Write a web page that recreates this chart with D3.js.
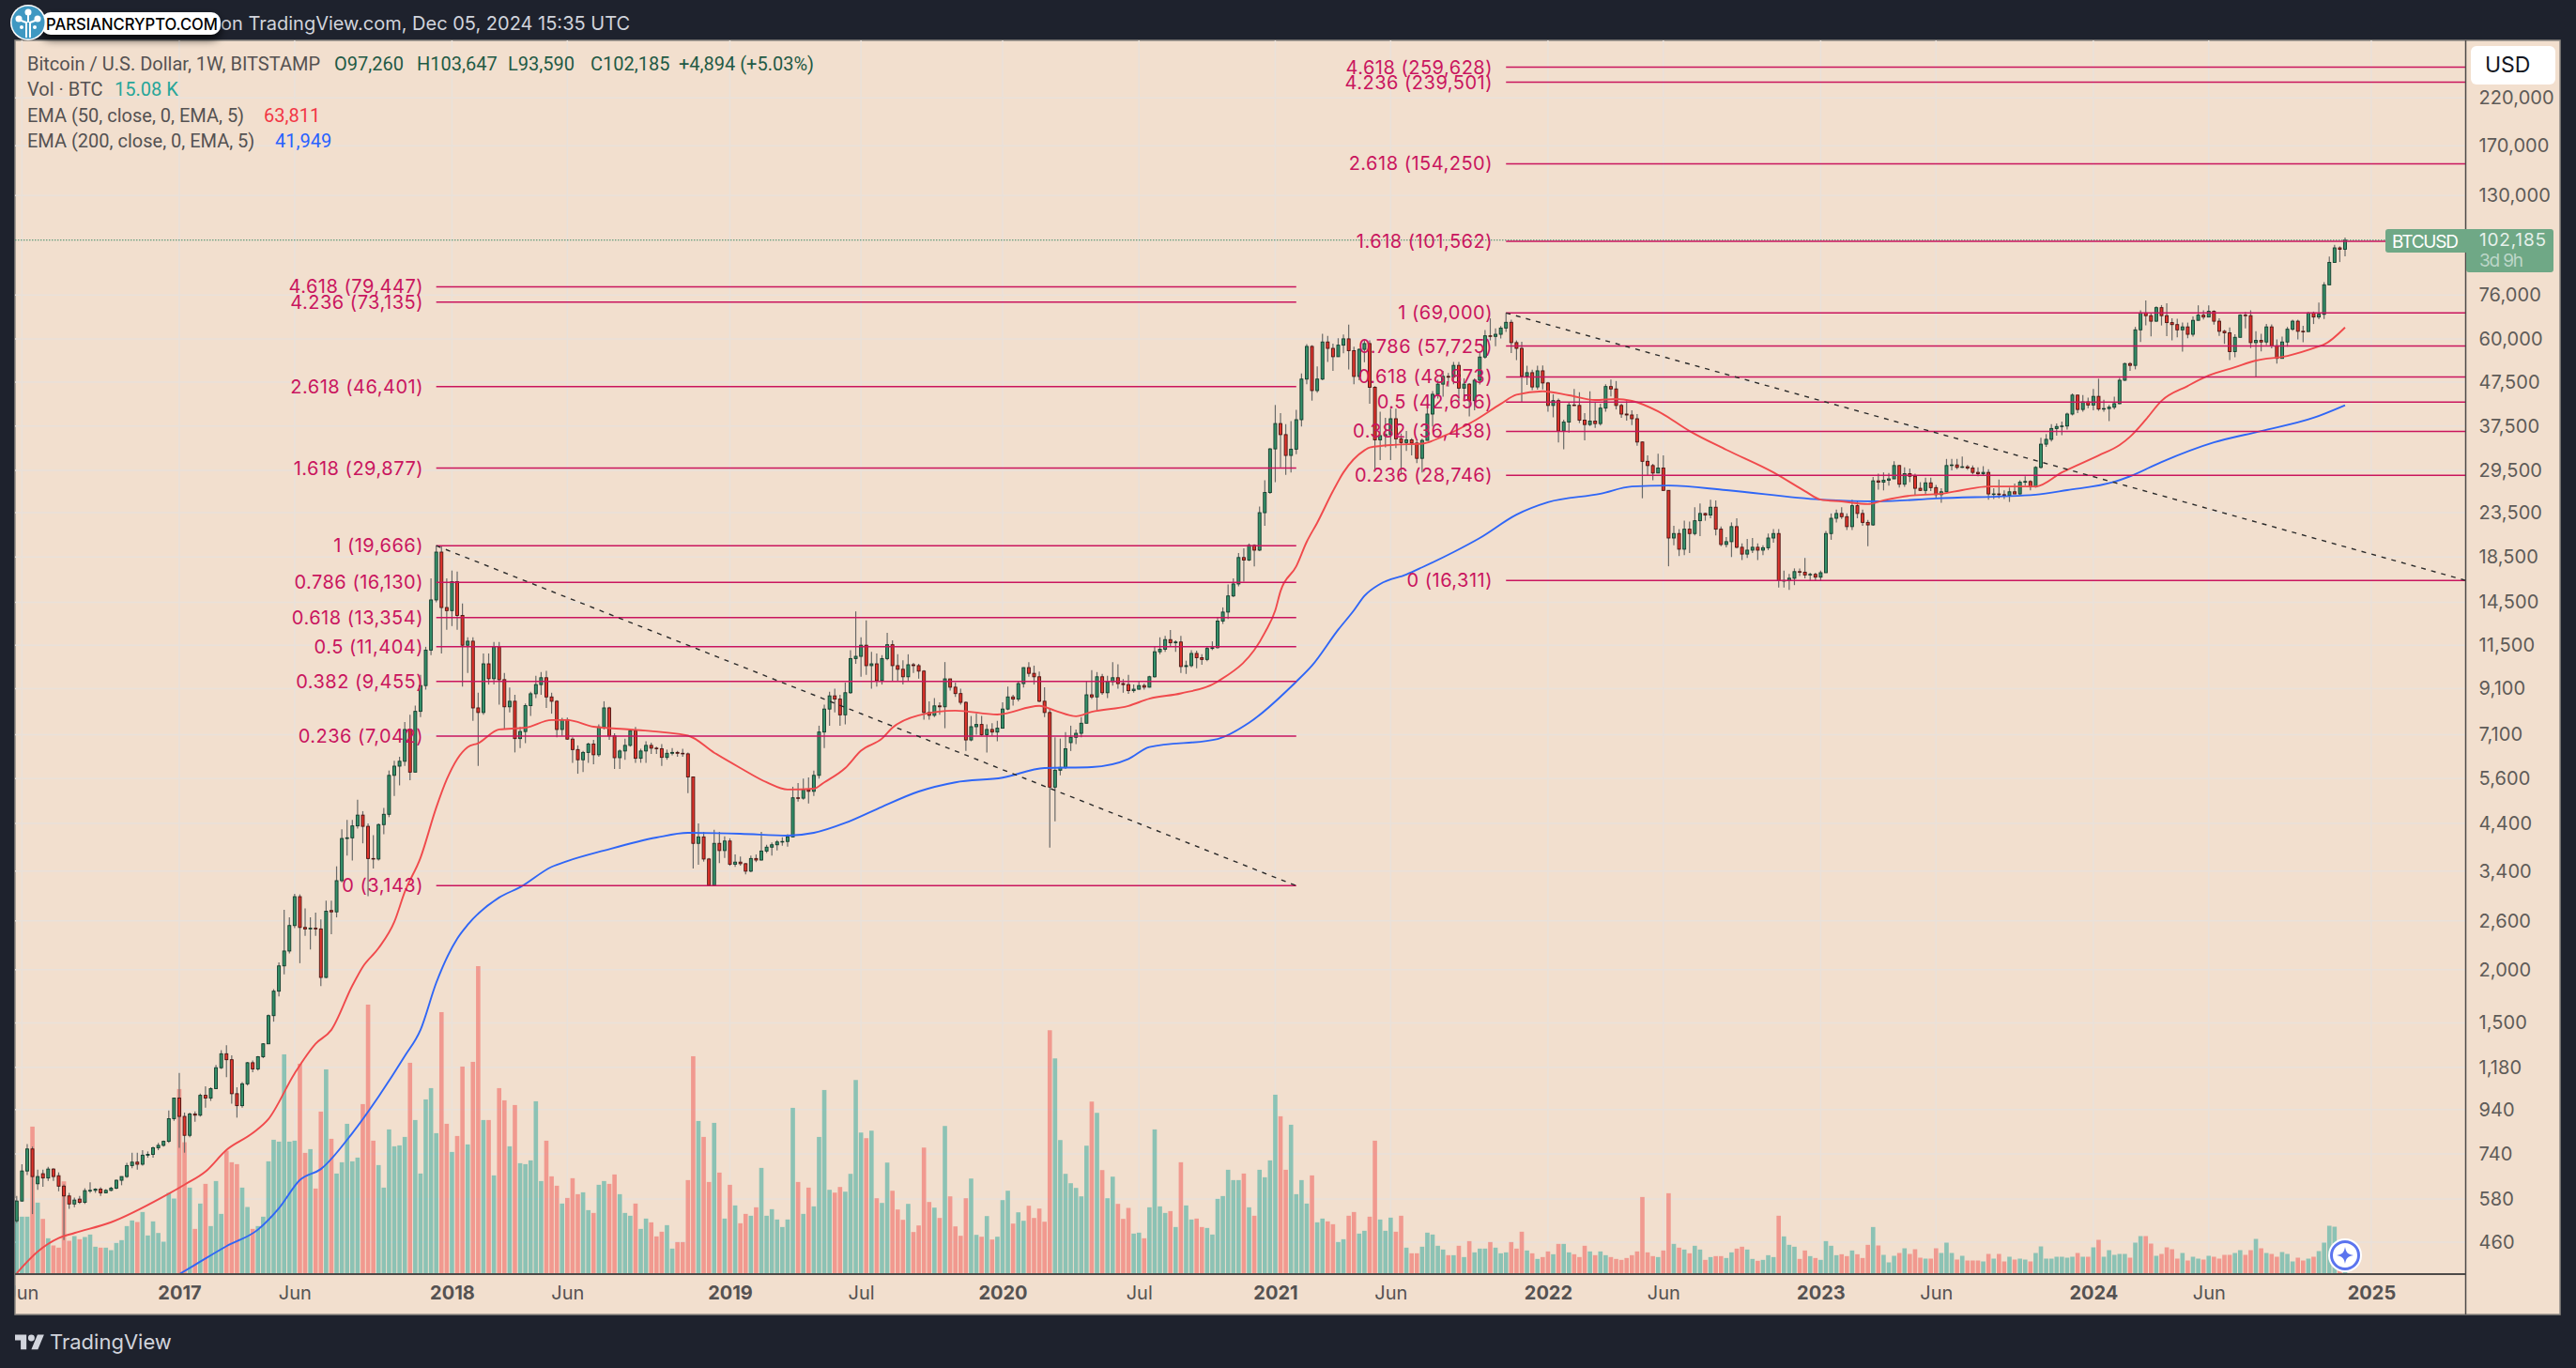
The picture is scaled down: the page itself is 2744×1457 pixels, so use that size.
<!DOCTYPE html>
<html><head><meta charset="utf-8">
<script src="https://cdn.jsdelivr.net/npm/d3@7"></script>
<style>
html,body{margin:0;padding:0;background:#1e222d}
svg{display:block}
text{font-family:Inter,"Noto Sans",sans-serif}
</style></head><body><div id="chart"></div>
<script>
// Weekly candles, one row per month: 2016-05-30 ... 2024-12-02 (BTCUSD, Bitstamp)
const weeklyOpen=[
516,574,675,760,630,665,650,682,658,622,590,565,580,570,607,608,612,600,608,615,642,655,695,708,700,735,738,765,775,792,895,
1000,906,818,918,912, 1015,1000,1052,1178, 1270,1230,1024,960, 1080,1210,1170,1250, 1340,1560,1780,2040,2210, 2536,2963,2510,2490, 2500,2490,1917,2750,2730, 3230,4055,4070,4340, 4600,4330,3640,3630, 4370,4620,5700,5990,6150, 7300,5800,8050,9250, 11200,14680,19000,14090,
13860,16200,13500,11500,11750, 8200,8000,10400,9600, 11400,9550,8250,8500, 6950,7220,8300,8850,9300, 9650,8700,8500,7300, 7700,6930,6550,6200, 6450,6750,6370,7400,8200, 7050,6270,6500,6700, 7250,6250,6500,6700, 6600,6580,6280,6420,6450, 6420,6400,5650,3950, 4090,3630,3150,3950,3800,
4000,3530,3570,3540, 3400,3640,3610,3790, 3870,3920,3980,3990, 4090,5050,5040,5270,5230, 5700,7200,8150,8750, 8600,7900,8900,10700, 10830,11500,10300,10400,9500, 10700,11530,10300,10100, 9700,10350,10300,10000,8000, 7880,8290,8250,9590, 9170,8860,8450,6900, 7410,7500,7100,7300,7200,
7350,8150,8700,8600, 9350,10190,9880,9700, 8500,8000,5350,5860,5950, 6800,7000,7150,7550, 8800,8700,9700,8900, 9450,9650,9350,9300,9000, 9070,9250,9170,9700, 11100,11250,11850,11650,11700, 10250,10300,11000,10750, 10650,11300,11350,13100, 13750,15000,16000,18450,18200, 19700,19200,23500,26200,
33150,38000,35800,32000, 33100,38800,48300,57600, 45400,48300,59000,57000,54500, 58000,60000,56300,49000, 56700,58500,46200,34800,35600, 35800,39000,35000,34300, 34800,34200,31500,34700, 40000,44500,47000,49000,48800, 52000,46000,47000,43000, 48000,54400,61000,60800, 61500,63600,65600,58800,57000, 49100,50000,46300,50500,
47300,41900,43000,36500,38300, 42000,41900,38700,37800, 38500,38000,41300,46400, 45800,41900,40000,39800, 39000,34400,31000,30300,29100, 29900,26500,20500,21000, 19300,21500,21000,22500, 23400,23200,24200,21500,19800, 20100,21800,19500,18800, 19200,19500,19200,19450,20500, 21000,16300,16300,16500, 17100,17050,16800,16850,
16600,17000,21000,22800,23400, 23000,21800,24400,23400, 22300,22000,27900,27700, 28000,28200,30300,27400, 29000,28600,26800,26500,27600, 26900,25900,26300,30300, 30400,30000,30100,29900,29200, 29000,29200,26000,26000, 25900,25800,26300,26000, 27700,27800,27000,30000,34000, 34900,37000,37400,37500, 40000,44300,41000,42700,
42000,44000,41100,41200,41500, 42300,48000,52500,52000, 63000,69000,68000,66000, 71000,68000,65500,64800,63000, 64000,61500,66300,68200, 67500,69600,66000,62500, 62000,56000,60500,68200,68000, 58800,59500,59000,64000, 57800,54000,59000,63200,66000, 62500,62400,69000,67500, 68500,80300,90600,98000, 97260];
const weeklyHigh=[
590,700,780,770,680,680,690,685,670,628,600,585,590,615,635,615,618,612,620,645,655,705,745,745,755,750,770,785,795,935,1003,
1145,925,925,930,1025, 1065,1060,1195,1295, 1330,1260,1060,1090, 1215,1225,1255,1345, 1570,1800,2080,2760,2650, 3010,3000,2780,2650, 2720,2620,2900,2900,3490, 4260,4480,4480,5000, 4700,4400,4130,4400, 4780,5850,6170,6300,7600, 7900,8300,9800,11400, 16500,19666,19600,16500,
17200,17100,14400,12000,12000, 8900,11000,11000,11700, 11700,9900,9150,8800, 7400,8400,8950,9750,9950, 10020,8900,8550,7770, 7780,7000,6700,6500, 6800,6900,7500,8500,8250, 7150,6550,6950,7300, 7400,6580,6850,6800, 6650,6750,6550,6600,6500, 6580,6450,5650,4400, 4200,3650,4250,4200,4100,
4060,3720,3680,3550, 3700,3720,4200,3920, 3970,4020,4080,4150, 5360,5470,5600,5640,5850, 7450,8350,8950,9100, 8800,9400,11200,13800, 12000,13150,11100,11000,10900, 12300,11800,10950,10600, 10950,10450,10400,10050,8500, 8650,8450,10500,9500, 9400,9100,8500,7850, 7950,7850,7500,7550,7650,
8450,9200,8800,9500, 10200,10500,10300,9980, 9170,8180,7000,6950,7200, 7450,7300,7800,9450, 10050,9950,9850,9750, 10500,10380,9580,9800,9300, 9480,9350,9750,11450, 12000,12100,12480,11800,12100, 10580,11200,11170,10950, 11450,11740,13350,14100, 15950,16500,18900,19400,19900, 19800,24300,28000,33300,
42000,40200,37900,38500, 40900,49800,58300,58000, 51700,61700,61000,58500,60200, 61400,64800,57500,57000, 59500,59500,46500,40500,39200, 41200,41200,36000,36500, 35100,34700,35000,42500, 45300,48100,50500,49900,53000, 53000,48500,47300,48500, 56000,62900,67000,63500, 64300,69000,66500,59500,59100, 51900,50800,51900,52000,
47600,44500,43500,38800,42600, 45800,45000,40200,45200, 42500,42300,47000,48200, 47800,42300,42900,40800, 40000,34500,32000,30600,32300, 32000,26500,21900,21500, 22500,22400,24200,24700, 23500,25200,25100,21800,20600, 22300,22800,19900,20400, 20500,19900,19700,21000,21500, 21500,17200,16900,17400, 17400,18400,17000,17000,
17200,21300,23400,23900,24200, 23400,25200,25100,23900, 22600,28500,29000,29200, 29100,31000,30400,30000, 29800,29000,27700,28400,28400, 27300,26800,31400,31400, 31400,31800,30400,30300,30000, 30200,29700,26800,28100, 26500,26900,27500,28000, 28600,28000,30200,35200,35900, 37900,38000,38400,40300, 44700,44400,44300,43700,
45800,48400,43200,42000,43900, 48600,52800,52900,64000, 70000,73800,68900,71500, 72000,72700,67000,66900,65500, 65500,67700,71900,70000, 71900,70000,67000,63000, 63800,61500,68500,69400,70000, 62500,61700,65000,64900, 59800,60700,64000,66500,66500, 64400,69400,69500,73000, 81500,93500,99600,98800, 103647];
const weeklyLow=[
510,572,660,535,610,620,640,640,605,465,550,555,565,565,600,600,590,598,605,612,625,650,685,680,695,725,725,755,770,785,885,
765,745,810,880,905, 950,985,1050,1170, 1120,970,900,950, 1070,1150,1160,1240, 1340,1510,1730,1950,2180, 2500,2070,2400,2230, 2400,1830,1910,2420,2650, 3200,3700,3600,4280, 3950,2970,3450,3600, 4150,4550,5100,5400,6000, 5550,5800,7800,9050, 10900,14500,11000,12500,
12750,12500,9200,9900,7650, 6000,7900,9300,9300, 8350,7300,8000,6450, 6600,6780,7850,8650,8800, 8200,7950,7000,7050, 6900,6100,5750,5800, 6100,6050,6300,7300,6900, 5900,5900,6200,6650, 6100,6100,6100,6400, 6400,6000,6200,6350,6300, 6300,5180,3450,3520, 3580,3143,3150,3550,3650,
3500,3480,3500,3340, 3380,3570,3600,3750, 3700,3800,3900,3880, 4090,4950,5000,4900,5100, 5600,6600,7450,8000, 7450,7500,8850,10400, 9700,9800,9100,9200,9300, 10600,9500,9500,9300, 9500,9900,9600,7700,7700, 7800,7900,7350,9000, 8700,8350,6500,6850, 7100,7050,6450,7050,6850,
7350,8100,8300,8500, 9150,9700,9300,8450, 7800,3860,4450,5700,5900, 6500,6750,7000,7550, 8600,8100,8800,8650, 9250,9100,8900,8850,8900, 9050,9050,9150,9650, 10950,11100,11400,11100,9900, 9850,10200,10150,10350, 10550,11200,11300,12900, 13250,14900,15800,16200,18100, 17600,19100,21900,26000,
27700,30000,28800,29200, 32200,37400,47000,43000, 44900,48000,53000,50500,54500, 55500,50900,47000,48000, 52900,42300,29700,31200,33400, 31200,33300,28800,32800, 32000,30700,29200,34700, 37400,43500,43900,46400,47000, 42900,43400,39500,40800, 46900,53900,59500,57700, 60100,62300,55600,53500,42500, 46800,45500,45600,45700,
40500,39300,34300,33100,36200, 41800,38100,34700,37500, 37100,37600,40500,44000, 41000,39200,38600,37700, 33700,25400,28700,28000,29100, 26400,17600,19700,18600, 18700,18900,20800,20700, 22500,22800,20800,19600,19500, 18500,19400,18200,18400, 18900,18200,18700,19200,20000, 15700,15700,15500,15900, 16700,16500,16300,16300,
16300,17000,20300,22300,22700, 21400,21400,22800,21900, 19600,21900,26600,26500, 27200,28200,26900,27000, 27700,25800,26400,25900,26400, 25400,24800,26200,29500, 29700,29900,29600,28900,28600, 28700,25200,25300,25400, 25300,24900,26000,25900, 27200,26500,26900,29800,33500, 34500,35600,35700,36800, 39700,40200,40500,41300,
40800,40700,40500,38500,41000, 42200,47800,50500,50900, 59000,64500,60800,65800, 64500,60900,59500,60500,56000, 60200,60700,66300,66600, 67500,64800,61000,58400, 53500,54300,60500,63500,57100, 49000,56100,58000,57000, 52500,54000,57500,62700,59800, 58900,62400,65000,66700, 66800,80300,90500,90800, 93590];
const weeklyClose=[
574,675,760,655,655,650,682,655,622,590,565,577,570,607,608,612,600,608,615,642,655,695,708,700,735,738,765,775,792,895,1000,
906,818,918,912,1015, 1000,1052,1178,1270, 1230,1024,960,1080, 1210,1170,1250,1340, 1560,1780,2040,2210,2536, 2963,2510,2490,2500, 2490,1917,2740,2730,3230, 4055,4070,4340,4600, 4330,3640,3630,4370, 4620,5700,5990,6150,7300, 5800,8050,9250,11200, 14680,19000,14090,13860,
16200,13500,11500,11750,8200, 8000,10400,9600,11400, 9550,8250,8500,6950, 7220,8300,8850,9300,9650, 8700,8500,7300,7700, 6930,6550,6200,6450, 6750,6370,7400,8200,7050, 6270,6500,6700,7250, 6250,6500,6700,6600, 6580,6280,6420,6450,6420, 6400,5650,3950,4090, 3630,3150,3950,3800,4000,
3530,3570,3540,3400, 3640,3610,3790,3870, 3920,3980,3990,4090, 5050,5040,5270,5230,5700, 7200,8150,8750,8600, 7900,8900,10700,10830, 11500,10300,10400,9500,10700, 11530,10300,10100,9700, 10350,10300,10000,8000,7880, 8290,8250,9590,9170, 8860,8450,6900,7410, 7500,7100,7300,7200,7350,
8150,8700,8600,9350, 10190,9880,9700,8500, 8000,5350,5860,5950,6580, 7000,7150,7550,8800, 8700,9700,8900,9450, 9650,9350,9300,9000,9070, 9250,9170,9700,11100, 11250,11850,11650,11700,10250, 10300,11000,10750,10650, 11300,11350,13100,13750, 15000,16000,18450,18200,19700, 19200,23500,26200,33150,
38000,35800,32000,33100, 38800,48300,57600,45400, 48300,59000,57000,54500,58000, 60000,56300,49000,56700, 58500,46200,34800,35600,35800, 39000,35000,34300,34800, 34200,31500,34700,40000, 44500,47000,49000,48800,52000, 46000,47000,43000,48000, 54400,61000,60800,61500, 63600,65600,58800,57000,49100, 50000,46300,50500,47300,
41900,43000,36500,38300,42000, 41900,38700,37800,38500, 38000,41300,46400,45800, 41900,40000,39800,39000, 34400,31000,30300,29100,29900, 26500,20500,21000,19300, 21500,21000,22500,23400, 23200,24200,21500,19800,20100, 21800,19500,18800,19200, 19500,19200,19450,20500,21000, 16300,16300,16500,17100, 17050,16800,16850,16600,
17000,21000,22800,23400,23000, 21800,24400,23400,22300, 22000,27900,27700,28000, 28200,30300,27400,29000, 28600,26800,26500,27600,26900, 25900,26300,30300,30400, 30000,30100,29900,29200,29000, 29200,26000,26000,25900, 25800,26300,26000,27700, 27800,27000,30000,34000,34900, 37000,37400,37500,40000, 44300,41000,42700,42000,
44000,41100,41200,41500,42300, 48000,52500,52000,63000, 69000,68000,66000,71000, 68000,65500,64800,63000,64000, 61500,66300,68200,67500, 69600,66000,62500,62000, 56000,60500,68200,68000,58800, 59500,59000,64000,57800, 54000,59000,63200,66000,62500, 62400,69000,67500,68500, 80300,90600,98000,97260, 102185];
// volume in units of 200 BTC, one value per week
const weeklyVolume=[
182,182,182,470,227,175,113,90,83,295,105,120,110,117,125,86,83,83,75,98,107,152,170,165,197,122,167,130,102,258,240,
590,420,275,143,224,287,152,296,191,393,356,350,275,213,143,152,182,359,428,422,701,422,425,671,386,398,272,518,653,431,320,356,479,359,371,542,860,425,347,275,461,407,410,437,674,491,320,557,593,449,836,479,
389,440,662,413,677,983,491,491,314,593,554,407,539,353,350,362,551,296,425,311,281,224,242,305,254,260,203,194,284,296,287,317,254,194,185,224,143,176,164,119,134,155,80,101,101,299,695,488,437,293,482,323,176,
284,218,161,191,185,212,338,185,206,173,149,173,530,293,191,275,215,437,587,268,259,277,262,319,619,451,433,457,241,226,355,265,205,172,223,133,154,403,229,211,178,472,247,151,121,241,304,124,118,184,109,118,235,
265,160,196,169,217,178,208,166,778,688,427,319,289,274,247,409,550,514,331,241,310,223,175,210,128,131,113,212,461,215,194,200,149,356,218,173,176,149,146,125,239,248,332,299,299,320,212,185,332,308,362,
572,503,332,476,254,299,224,314,164,176,167,158,101,110,185,197,128,137,182,425,173,137,179,134,185,83,65,65,86,131,125,89,77,59,59,89,53,104,68,80,80,101,83,65,68,101,80,134,74,65,47,53,
71,62,95,95,68,62,53,89,71,59,71,59,53,47,44,50,59,71,245,68,56,53,74,257,95,83,77,65,89,77,44,53,56,56,50,68,80,86,77,47,41,44,59,53,185,119,92,86,47,74,56,50,
44,104,89,59,62,56,74,62,50,92,149,90,60,36,57,66,81,63,78,51,48,48,81,66,99,66,45,57,42,42,42,39,63,48,63,39,54,45,48,45,39,66,87,48,48,54,54,51,54,66,54,54,
84,108,54,75,60,63,63,51,99,120,120,96,57,63,84,78,48,66,42,54,48,45,57,54,48,60,60,66,75,60,75,111,81,66,63,54,69,63,39,51,42,48,54,72,99,153,150,85,75];
// EMA values at the given week numbers (week 0 = 2016-05-30)
const ema50Weeks=[0,4,8,11,18,28,32,36,40,45,48,53,57,60,64,66,69,72,74,77,80,82,84,86,88,92,97,102,105,110,117,128,133,138,143,147,152,154,158,161,165,167,172,179,187,195,198,202,205,212,216,222,229,238,240,241,244,246,248,251,253,257,258,263,268,272,278,283,286,291,296,301,305,308,313,319,326,335,341,344,348,353,356,361,367,371,376,385,390,397,401,403,406,409,414,418,423,427,433,439,440,444];
const ema50Values=[389,437,470,483,512,588,627,673,756,828,893,1143,1341,1445,1834,2030,2245,2585,3040,3655,4790,5575,6225,6640,6780,7300,7370,7680,7680,7410,7300,7060,6440,5930,5490,5280,5305,5490,5930,6510,6950,7370,7880,8080,7915,8290,8080,7840,8030,8290,8620,8870,9450,12300,13880,15390,17600,20090,22260,26400,29200,32900,33400,33900,34100,35470,38600,42250,44400,45230,44270,43160,43380,42930,40590,36500,33000,29200,26400,25220,24970,24620,25120,25760,26020,26540,27060,27060,29200,32000,33830,35400,38830,42970,46550,49230,51500,53390,54730,57600,58200,63811];
const ema200Weeks=[31,34,40,46,50,54,58,64,69,74,77,80,84,86,92,96,102,105,112,122,128,138,147,152,158,164,172,179,188,196,205,212,216,229,235,244,247,252,255,257,260,265,268,274,279,286,292,302,308,315,326,344,355,366,385,391,400,403,409,419,428,438,444];
const ema200Values=[387,407,450,492,552,643,682,828,1008,1254,1445,1862,2363,2546,2950,3118,3480,3590,3800,4076,4180,4160,4118,4180,4410,4750,5225,5490,5630,5930,5960,6225,6640,6935,7570,9450,10300,12500,13880,15000,16000,16840,17500,19000,20500,23250,24860,26020,27060,27200,26540,25220,24970,25370,25900,26540,27760,28600,30890,34340,36500,39200,41949];
// Fibonacci retracement levels
const fibRatios=["4.618","4.236","2.618","1.618","1","0.786","0.618","0.5","0.382","0.236","0"];
const fibCycle2017=[79447,73135,46401,29877,19666,16130,13354,11404,9455,7042,3143];
const fibCycle2021=[259628,239501,154250,101562,69000,57725,48873,42656,36438,28746,16311];
const priceTicks=[220000,170000,130000,76000,60000,47500,37500,29500,23500,18500,14500,11500,9100,7100,5600,4400,3400,2600,2000,1500,1180,940,740,580,460];
const timeTicks=["2016-06-06","2017-01-02","2017-06-05","2018-01-01","2018-06-04","2019-01-07","2019-07-01","2020-01-06","2020-07-06","2021-01-04","2021-06-07","2022-01-03","2022-06-06","2023-01-02","2023-06-05","2024-01-01","2024-06-03","2025-01-06"];
const timeLabels=["Jun","2017","Jun","2018","Jun","2019","Jul","2020","Jul","2021","Jun","2022","Jun","2023","Jun","2024","Jun","2025"];

const W=2744,H=1457,L=16,T=43,R=2626.5,RR=2727,B=1357,BB=1400;
const BG="#f2dfce",GRID="#e9e1da",FIB="#c9155e",TXT="#555252";
const parse=d3.utcParse("%Y-%m-%d");
const firstWeek=parse("2016-05-30"),lastWeek=parse("2024-12-02");
const weekDate=i=>d3.utcDay.offset(firstWeek,i*7);
const x=d3.scaleUtc().domain([firstWeek,lastWeek]).range([17.8,2498]);
const y=d3.scaleLog().domain([460,220000]).range([1322.9,104.3]);
const yVol=d3.scaleLinear().domain([0,983]).range([1356.5,1029]);

const svg=d3.select("#chart").append("svg").attr("width",W).attr("height",H).attr("viewBox",`0 0 ${W} ${H}`);
const defs=svg.append("defs");
defs.append("clipPath").attr("id","plot").append("rect").attr("x",L).attr("y",T).attr("width",R-L).attr("height",B-T);
defs.append("clipPath").attr("id","timeclip").append("rect").attr("x",L).attr("y",B).attr("width",R-L).attr("height",BB-B);
const f=defs.append("filter").attr("id","sh").attr("x","-10%").attr("y","-30%").attr("width","120%").attr("height","190%");
f.append("feDropShadow").attr("dx",0).attr("dy",5).attr("stdDeviation",5).attr("flood-color","#000").attr("flood-opacity",.75);

svg.append("rect").attr("width",W).attr("height",H).attr("fill","#1e222d");
svg.append("rect").attr("x",L).attr("y",T).attr("width",RR-L).attr("height",BB-T).attr("fill",BG).attr("stroke","#8f8a84").attr("stroke-width",1.5);

const plot=svg.append("g").attr("clip-path","url(#plot)");
// grid
plot.append("g").selectAll("line").data(priceTicks).join("line")
 .attr("x1",L).attr("x2",R).attr("y1",d=>y(d)).attr("y2",d=>y(d)).attr("stroke",GRID).attr("stroke-width",1.5);
plot.append("g").selectAll("line").data(timeTicks).join("line")
 .attr("x1",d=>x(parse(d))).attr("x2",d=>x(parse(d))).attr("y1",T).attr("y2",B).attr("stroke",GRID).attr("stroke-width",1.5);
// volume
const idx=d3.range(weeklyClose.length);
const up=i=>weeklyClose[i]>=weeklyOpen[i];
plot.append("g").selectAll("rect").data(idx).join("rect")
 .attr("x",i=>x(weekDate(i))-2.3).attr("width",4.6)
 .attr("y",i=>yVol(weeklyVolume[i])).attr("height",i=>yVol(0)-yVol(weeklyVolume[i]))
 .attr("fill",i=>up(i)?"#26a69a":"#ef5350").attr("fill-opacity",.5);
// candles
const c=plot.append("g");
c.selectAll("line").data(idx).join("line")
 .attr("x1",i=>x(weekDate(i))).attr("x2",i=>x(weekDate(i)))
 .attr("y1",i=>y(weeklyHigh[i])).attr("y2",i=>y(weeklyLow[i]))
 .attr("stroke","#6a6a68").attr("stroke-width",1.2);
c.selectAll("rect").data(idx).join("rect")
 .attr("x",i=>x(weekDate(i))-1.5).attr("width",3)
 .attr("y",i=>Math.min(y(weeklyOpen[i]),y(weeklyClose[i])))
 .attr("height",i=>Math.max(.6,Math.abs(y(weeklyOpen[i])-y(weeklyClose[i]))))
 .attr("fill",i=>up(i)?"#35906a":"#e0342c").attr("stroke",i=>up(i)?"#123c2c":"#4b1512").attr("stroke-width",.9);
// EMA lines
const line=d3.line().x(d=>x(weekDate(d[0]))).y(d=>y(d[1])).curve(d3.curveMonotoneX);
plot.append("path").attr("d",line(d3.zip(ema200Weeks,ema200Values))).attr("fill","none").attr("stroke","#2f66f6").attr("stroke-width",1.9).attr("stroke-linejoin","round");
plot.append("path").attr("d",line(d3.zip(ema50Weeks,ema50Values))).attr("fill","none").attr("stroke","#f04a4c").attr("stroke-width",1.9).attr("stroke-linejoin","round");
// last price dotted line
plot.append("line").attr("x1",L).attr("x2",2541).attr("y1",y(102185)).attr("y2",y(102185)).attr("stroke","#3f8a68").attr("stroke-width",1).attr("stroke-dasharray","1.5 1.5");
// fib drawings
const fibSets=[{levels:fibCycle2017,from:80,to:244,labelX:451},{levels:fibCycle2021,from:284,to:467,labelX:1590}];
fibSets.forEach(s=>{
  const x0=x(weekDate(s.from)),x1=x(weekDate(s.to));
  plot.append("g").selectAll("line").data(s.levels).join("line")
   .attr("x1",x0).attr("x2",x1).attr("y1",d=>y(d)).attr("y2",d=>y(d)).attr("stroke",FIB).attr("stroke-width",1.5);
  plot.append("line").attr("x1",x0).attr("x2",x1).attr("y1",y(s.levels[4])).attr("y2",y(s.levels[10]))
   .attr("stroke","#2b2b2b").attr("stroke-width",1.4).attr("stroke-dasharray","5 6");
});
// fib labels on top
fibSets.forEach(s=>{
  svg.append("g").selectAll("text").data(s.levels).join("text")
   .attr("x",s.labelX).attr("y",d=>y(d)).attr("dy","0.35em").attr("text-anchor","end")
   .attr("font-size",20).attr("letter-spacing",.5).attr("fill",FIB)
   .text((d,i)=>`${fibRatios[i]} (${d3.format(",")(d)})`);
});
// axes
svg.append("line").attr("x1",L).attr("x2",R).attr("y1",B).attr("y2",B).attr("stroke","#4d4a48").attr("stroke-width",2);
svg.append("line").attr("x1",R).attr("x2",R).attr("y1",T).attr("y2",BB).attr("stroke","#4d4a48").attr("stroke-width",1.5);
const ya=svg.append("g").attr("transform",`translate(${R},0)`)
 .call(d3.axisRight(y).tickValues(priceTicks).tickFormat(d3.format(",")).tickSize(0).tickPadding(14));
ya.select(".domain").remove();
ya.selectAll("text").attr("font-size",20).attr("letter-spacing",.1).attr("fill","#5e5b58");
const xa=svg.append("g").attr("clip-path","url(#timeclip)").append("g").attr("transform",`translate(0,${B})`)
 .call(d3.axisBottom(x).tickValues(timeTicks.map(parse)).tickFormat((d,i)=>timeLabels[i]).tickSize(0).tickPadding(13));
xa.select(".domain").remove();
xa.selectAll("text").attr("font-size",20).attr("fill",TXT).attr("font-weight",(d,i)=>/^\d/.test(timeLabels[i])?700:400);
// USD box
svg.append("rect").attr("x",2632).attr("y",49).attr("width",90).attr("height",41).attr("rx",6).attr("fill","#fff");
svg.append("text").attr("x",2647).attr("y",77).attr("font-size",23).attr("fill","#131722").text("USD");
// price tag
svg.append("rect").attr("x",2541).attr("y",244).attr("width",90).attr("height",25).attr("rx",3).attr("fill","#6fa886");
svg.append("rect").attr("x",2627).attr("y",244).attr("width",93).attr("height",46).attr("rx",3).attr("fill","#6fa886");
svg.append("text").attr("x",2548).attr("y",264).attr("font-size",19).attr("textLength",71).attr("fill","#fff").text("BTCUSD");
svg.append("text").attr("x",2641).attr("y",262).attr("font-size",19).attr("textLength",71).attr("fill","#e6f0ea").text("102,185");
svg.append("text").attr("x",2641).attr("y",284).attr("font-size",19).attr("textLength",47).attr("fill","#bcd6c8").text("3d 9h");
// legend
const legend=(px,py,s,fill)=>svg.append("text").attr("x",px).attr("y",py).attr("font-family","Roboto").style("font-family","Roboto").attr("font-size",20).attr("fill",fill).text(s);
const OHLCC="#1f5a45";
legend(29,75,"Bitcoin / U.S. Dollar, 1W, BITSTAMP",TXT);
legend(356,75,"O97,260",OHLCC);legend(444,75,"H103,647",OHLCC);legend(541,75,"L93,590",OHLCC);legend(629,75,"C102,185",OHLCC);legend(723,75,"+4,894 (+5.03%)",OHLCC);
legend(29,102,"Vol · BTC",TXT);legend(122,102,"15.08 K","#26a69a");
legend(29,130,"EMA (50, close, 0, EMA, 5)",TXT);legend(281,130,"63,811","#f23645");
legend(29,157,"EMA (200, close, 0, EMA, 5)",TXT);legend(293,157,"41,949","#2962ff");
// header
svg.append("text").attr("x",235).attr("y",32).attr("font-size",20).attr("fill","#d1d4dc").text("on TradingView.com, Dec 05, 2024 15:35 UTC");
const logo=svg.append("g").attr("filter","url(#sh)");
logo.append("rect").attr("x",44).attr("y",13).attr("width",191).attr("height",24).attr("rx",10).attr("fill","#fff");
const lg=svg.append("g");
lg.append("circle").attr("cx",30).attr("cy",24).attr("r",19).attr("fill","#fff");
lg.append("circle").attr("cx",30).attr("cy",24).attr("r",17.5).attr("fill","#3f98c2");
lg.append("path").attr("d","M28 40V24L20 21M32 40V24L40 21M30 24V14").attr("stroke","#fff").attr("stroke-width",2).attr("fill","none");
[[20,20,3.5],[40,20,3.5],[30,13,3.5],[23,29,2],[37,29,2]].forEach(p=>lg.append("circle").attr("cx",p[0]).attr("cy",p[1]).attr("r",p[2]).attr("fill","#fff"));
svg.append("text").attr("x",49).attr("y",32).attr("font-size",17).attr("font-weight",500).attr("textLength",183).attr("lengthAdjust","spacingAndGlyphs").attr("fill","#000").text("PARSIANCRYPTO.COM");
// TradingView footer
const tv=svg.append("g").attr("transform","translate(16,1418) scale(.87)").attr("fill","#d1d4dc");
tv.append("path").attr("d","M14 22H7V11H0V4h14v18zM28 22h-8l7.5-18h8L28 22z");
tv.append("circle").attr("cx",20).attr("cy",8).attr("r",4);
svg.append("text").attr("x",53).attr("y",1437).attr("font-size",22).attr("fill","#d1d4dc").text("TradingView");
// assistant badge
const cx=x(lastWeek),cy=1337;
svg.append("circle").attr("cx",cx).attr("cy",cy).attr("r",18).attr("fill","#fff");
svg.append("circle").attr("cx",cx).attr("cy",cy).attr("r",14.5).attr("fill","#fff").attr("stroke","#5b74ee").attr("stroke-width",3);
svg.append("path").attr("transform",`translate(${cx},${cy})`).attr("d","M0-9C1-3 3-1 9 0 3 1 1 3 0 9-1 3-3 1-9 0-3-1-1-3 0-9Z").attr("fill","#5b74ee");
</script></body></html>
